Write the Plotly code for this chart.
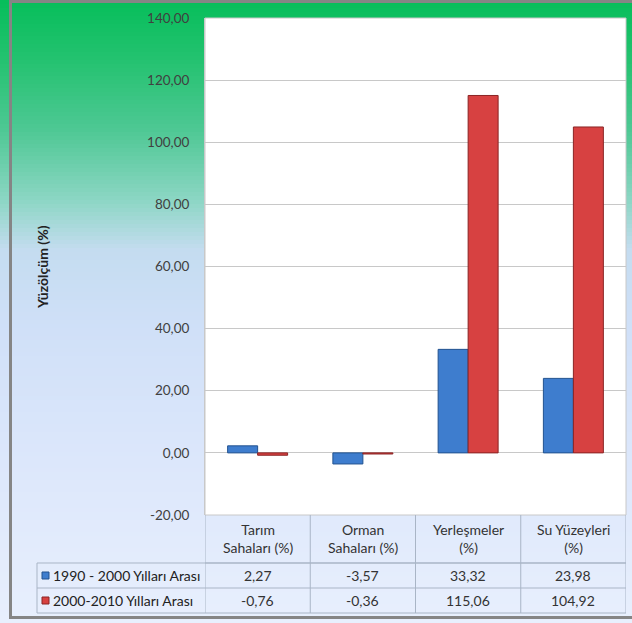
import plotly.graph_objects as go

categories = ["Tarım Sahaları (%)", "Orman Sahaları (%)", "Yerleşmeler (%)", "Su Yüzeyleri (%)"]
header_labels = ["Tarım<br>Sahaları (%)", "Orman<br>Sahaları (%)", "Yerleşmeler<br>(%)", "Su Yüzeyleri<br>(%)"]
series_names = ["1990 - 2000 Yılları Arası", "2000-2010 Yılları Arası"]
values_1990_2000 = [2.27, -3.57, 33.32, 23.98]
values_2000_2010 = [-0.76, -0.36, 115.06, 104.92]
y_ticks = [-20, 0, 20, 40, 60, 80, 100, 120, 140]

W, H = 632, 623
L, R, T, B = 205, 626, 18, 515
PW, PH = R - L, B - T


def px(x):
    return (x - L) / PW


def py(y):
    return (B - y) / PH


def fmt(v):
    return f"{v:.2f}".replace(".", ",")


FONT = "Lato, 'Open Sans', sans-serif"
BLUE, BLUE_EDGE = "#3E7DCE", "#22528F"
RED, RED_EDGE = "#D74141", "#8A2424"

fig = go.Figure()
fig.add_trace(go.Bar(
    x=categories, y=values_1990_2000, name=series_names[0],
    marker=dict(color=BLUE, line=dict(color=BLUE_EDGE, width=1)),
    showlegend=False,
))
fig.add_trace(go.Bar(
    x=categories, y=values_2000_2010, name=series_names[1],
    marker=dict(color=RED, line=dict(color=RED_EDGE, width=1)),
    showlegend=False,
))

shapes = []
stops = [(0, (6, 190, 90)), (60, (36, 194, 112)), (130, (78, 200, 148)),
         (200, (140, 214, 196)), (250, (196, 220, 240)), (330, (208, 224, 248)),
         (460, (220, 231, 251)), (623, (232, 239, 253))]


def col_at(y):
    for (y0, c0), (y1, c1) in zip(stops[:-1], stops[1:]):
        if y0 <= y <= y1:
            t = (y - y0) / (y1 - y0)
            return "rgb(%d,%d,%d)" % tuple(round(a + (b - a) * t) for a, b in zip(c0, c1))
    return "rgb(%d,%d,%d)" % stops[-1][1]


step = 4
for y in range(0, H, step):
    shapes.append(dict(type="rect", xref="paper", yref="paper", layer="below",
                       x0=px(0), x1=px(W + 2), y0=py(y), y1=py(y + step + 1),
                       line=dict(width=0), fillcolor=col_at(y + step / 2)))
shapes.append(dict(type="rect", xref="paper", yref="paper", layer="below",
                   x0=0, x1=1, y0=0, y1=1, fillcolor="white",
                   line=dict(color="#C8C8C8", width=1)))
shapes.append(dict(type="rect", xref="paper", yref="paper", layer="above",
                   x0=px(10.5), x1=px(W + 5), y0=py(1.5), y1=py(617.5),
                   line=dict(color="#858585", width=3), fillcolor="rgba(0,0,0,0)"))

LC = "#A9B5C6"
shapes.append(dict(type="line", xref="paper", yref="paper", x0=0, x1=1,
                   y0=py(563), y1=py(563), line=dict(color=LC, width=1)))
for yy in [563, 588, 613]:
    shapes.append(dict(type="line", xref="paper", yref="paper", x0=px(37), x1=1,
                       y0=py(yy), y1=py(yy), line=dict(color=LC, width=1)))
for xb in [-0.5, 0.5, 1.5, 2.5, 3.5]:
    shapes.append(dict(type="line", xref="x", yref="paper", x0=xb, x1=xb,
                       y0=py(515), y1=py(613), line=dict(color=LC, width=1)))
shapes.append(dict(type="line", xref="paper", yref="paper", x0=px(37), x1=px(37),
                   y0=py(563), y1=py(613), line=dict(color=LC, width=1)))

annotations = []
for cat, lab in zip(categories, header_labels):
    annotations.append(dict(x=cat, xref="x", y=py(538), yref="paper", text=lab,
                            showarrow=False, xanchor="center", yanchor="middle",
                            font=dict(family=FONT, size=14, color="#333333"),
                            align="center"))
row_centers = [575.5, 600.5]
series_vals = [values_1990_2000, values_2000_2010]
legend_cols = [(BLUE, BLUE_EDGE), (RED, RED_EDGE)]
for rc, name, vals, (fc, lc) in zip(row_centers, series_names, series_vals, legend_cols):
    shapes.append(dict(type="rect", xref="paper", yref="paper",
                       x0=px(42), x1=px(49), y0=py(rc + 3.5), y1=py(rc - 3.5),
                       fillcolor=fc, line=dict(color=lc, width=1)))
    annotations.append(dict(x=px(51), xref="paper", y=py(rc), yref="paper", text=name,
                            showarrow=False, xanchor="left", yanchor="middle",
                            font=dict(family=FONT, size=14, color="#222222")))
    for cat, v in zip(categories, vals):
        annotations.append(dict(x=cat, xref="x", y=py(rc), yref="paper", text=fmt(v),
                                showarrow=False, xanchor="center", yanchor="middle",
                                font=dict(family=FONT, size=14, color="#333333")))

annotations.append(dict(x=px(42), xref="paper", y=py(267), yref="paper",
                        text="<b>Yüzölçüm (%)</b>", textangle=-90, showarrow=False,
                        xanchor="center", yanchor="middle",
                        font=dict(family=FONT, size=14, color="#222222")))

fig.update_layout(
    width=W, height=H,
    margin=dict(l=L, r=W - R, t=T, b=H - B, pad=0),
    paper_bgcolor="#E6EEFC", plot_bgcolor="rgba(0,0,0,0)",
    barmode="group", bargap=0.43, bargroupgap=0,
    shapes=shapes, annotations=annotations,
    font=dict(family=FONT, size=13, color="#404040"),
    xaxis=dict(showticklabels=False, showgrid=False, zeroline=False, showline=False,
               range=[-0.5, 3.5]),
    yaxis=dict(range=[-20, 140], tickvals=y_ticks, ticktext=[fmt(v) for v in y_ticks],
               showgrid=True, gridcolor="#C8C8C8", gridwidth=1,
               zeroline=True, zerolinecolor="#C8C8C8", zerolinewidth=1,
               showline=True, linecolor="#C8C8C8", ticks="", ticklabelstandoff=12,
               tickfont=dict(family=FONT, size=13.5, color="#404040")),
)

fig.write_html("out.html")
